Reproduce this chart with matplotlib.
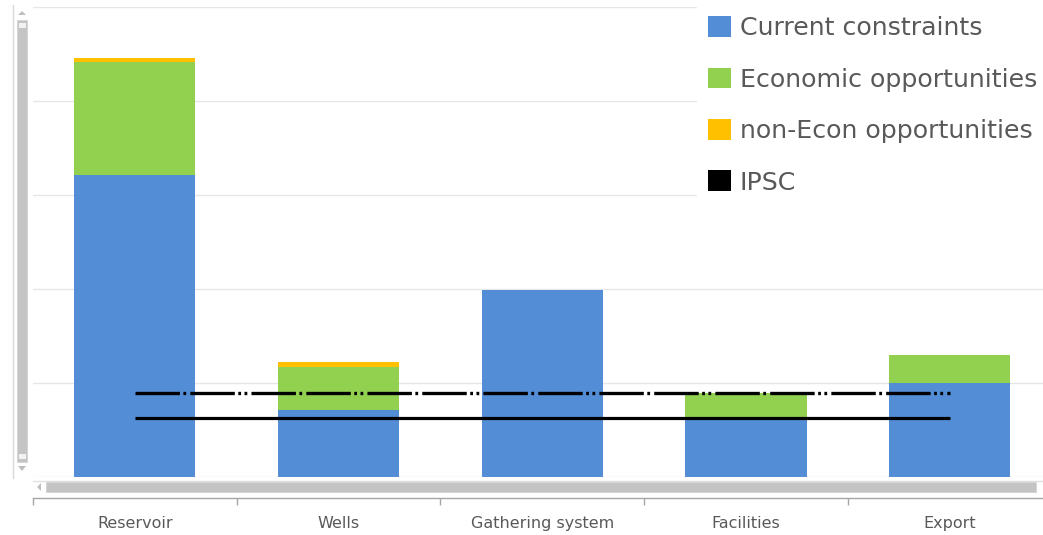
import matplotlib
matplotlib.use("Agg")
import matplotlib.pyplot as plt
from matplotlib.patches import Patch, Rectangle, Polygon
import numpy as np

categories = ["Reservoir", "Wells", "Gathering system", "Facilities", "Export"]
current_constraints = [3.21, 0.71, 1.99, 0.64, 1.00]
economic_opps = [1.20, 0.46, 0.00, 0.25, 0.30]
non_econ_opps = [0.05, 0.05, 0.00, 0.00, 0.00]
ipsc = [0.63, 0.63, 0.63, 0.63, 0.63]
ipsc_target = [0.895, 0.895, 0.895, 0.895, 0.895]
series_names = ["Current constraints", "Economic opportunities", "non-Econ opportunities", "IPSC"]
colors = ["#538DD5", "#92D050", "#FFC000", "#000000"]

plt.rcParams['lines.scale_dashes'] = False
plt.rcParams['font.family'] = ['DejaVu Sans']

W, H = 1043, 535
fig = plt.figure(figsize=(W / 100, H / 100), dpi=100)
fig.patch.set_facecolor("white")

def fx(px):
    return px / W

def fy(py):
    return (H - py) / H

slot = 203.7
ax = fig.add_axes([fx(33), fy(477), (5 * slot) / W, (477 - 7) / H])
x = np.arange(len(categories))
bw = 0.595
b1 = np.array(current_constraints)
b2 = np.array(economic_opps)
b3 = np.array(non_econ_opps)
ax.bar(x, b1, bw, color=colors[0], zorder=2)
ax.bar(x, b2, bw, bottom=b1, color=colors[1], zorder=2)
ax.bar(x, b3, bw, bottom=b1 + b2, color=colors[2], zorder=2)
ax.plot(x, ipsc, color="black", lw=2.3, zorder=3, solid_capstyle="butt")
ax.plot(x, ipsc_target, color="black", lw=2.4, zorder=3,
        linestyle=(0, (32, 2.5, 2, 3, 32, 2.5, 2, 2.5, 2, 3)), dash_capstyle="butt")

ax.set_xlim(-0.5, 4.5)
ax.set_ylim(0, 5)
ax.set_yticks([0, 1, 2, 3, 4, 5])
ax.yaxis.grid(True, color="#E6E6E6", lw=1.0, zorder=0)
ax.set_axisbelow(True)
ax.tick_params(axis="y", left=False, labelleft=False)
for s in ["top", "right", "left"]:
    ax.spines[s].set_visible(False)
ax.spines["bottom"].set_position(("outward", 15))
ax.spines["bottom"].set_color("#A6A6A6")
ax.spines["bottom"].set_linewidth(1.0)
ax.set_xticks(x)
ax.set_xticklabels(categories, fontsize=11.5, color="#595959")
ax.set_xticks(np.arange(-0.5, 5.0, 1.0), minor=True)
ax.tick_params(axis="x", which="major", length=0, pad=13)
ax.tick_params(axis="x", which="minor", length=5, color="#A6A6A6", width=1.0)

# legend
handles = [Patch(facecolor=c, edgecolor="none") for c in colors]
leg = fig.legend(handles, series_names, loc="upper left",
                 bbox_to_anchor=(fx(697), fy(5)), fontsize=18.2,
                 frameon=True, facecolor="white", edgecolor="white", framealpha=1,
                 handlelength=0.88, handleheight=0.88, handletextpad=0.36,
                 labelspacing=1.08, borderpad=0.45, borderaxespad=0)
leg.get_frame().set_boxstyle("square", pad=0)
for t in leg.get_texts():
    t.set_color("#595959")

# scrollbars (chart widget chrome)
fig.add_artist(plt.Line2D([fx(13), fx(13)], [fy(5), fy(478)], color="#D9D9D9", lw=1))
fig.add_artist(Rectangle((fx(17), fy(462)), fx(10), (462 - 20) / H, facecolor="#C4C4C4",
                         edgecolor="#D0D0D0", lw=0.5))
fig.add_artist(Rectangle((fx(18.5), fy(28)), fx(7), 5 / H, facecolor="#F2F2F2", edgecolor="none"))
fig.add_artist(Rectangle((fx(18.5), fy(459)), fx(7), 5 / H, facecolor="#F2F2F2", edgecolor="none"))
fig.add_artist(Polygon([[fx(18), fy(15)], [fx(26), fy(15)], [fx(22), fy(11)]], closed=True,
                       facecolor="#BFBFBF", edgecolor="none"))
fig.add_artist(Polygon([[fx(18), fy(466)], [fx(26), fy(466)], [fx(22), fy(471)]], closed=True,
                       facecolor="#BFBFBF", edgecolor="none"))
fig.add_artist(plt.Line2D([fx(33), fx(1043)], [fy(481), fy(481)], color="#E0E0E0", lw=1))
fig.add_artist(Rectangle((fx(46), fy(492)), fx(990), 10 / H, facecolor="#C4C4C4",
                         edgecolor="#D0D0D0", lw=0.5))
fig.add_artist(Polygon([[fx(41), fy(483)], [fx(41), fy(491)], [fx(37), fy(487)]], closed=True,
                       facecolor="#BFBFBF", edgecolor="none"))

fig.savefig("out.png", dpi=100, facecolor="white")
